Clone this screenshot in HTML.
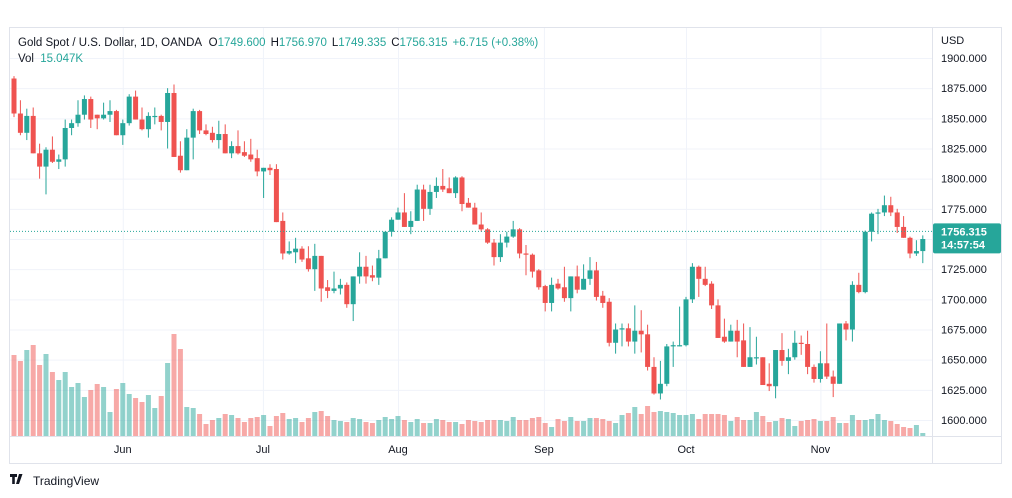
<!DOCTYPE html>
<html><head><meta charset="utf-8">
<style>
body{margin:0;background:#fff;font-family:"Liberation Sans",sans-serif;}
#wrap{position:relative;width:1012px;height:498px;overflow:hidden;}
svg text{font-family:"Liberation Sans",sans-serif;}
</style></head>
<body>
<div id="wrap">
<svg id="chart" width="1012" height="498"></svg>
</div>
<script>
const opens=[1883,1854,1838,1852,1821,1810,1824,1814,1816,1842,1846,1853,1866,1853,1850,1853,1856,1836,1846,1868,1849,1841,1851,1852,1847,1871,1819,1807,1834,1856,1840,1838,1832,1837,1821,1827,1822,1820,1817,1806,1809,1808,1765,1738,1739,1742,1734,1725,1736,1710,1707,1709,1712,1696,1719,1727,1720,1718,1734,1756,1766,1772,1760,1765,1791,1775,1789,1794,1792,1788,1801,1780,1776,1762,1758,1747,1735,1747,1752,1758,1738,1737,1724,1711,1697,1713,1710,1701,1719,1708,1717,1724,1703,1698,1664,1675,1676,1665,1674,1671,1644,1622,1630,1661,1661,1662,1700,1727,1717,1713,1695,1669,1665,1674,1666,1644,1651,1652,1630,1628,1658,1649,1652,1664,1663,1644,1634,1647,1636,1630,1680,1675,1712,1706,1756,1771,1772,1778,1772,1760,1751,1738,1740];
const highs=[1885,1865,1858,1859,1829,1826,1835,1820,1849,1849,1865,1869,1868,1853,1863,1865,1857,1849,1870,1873,1859,1855,1859,1853,1875,1878,1831,1841,1858,1857,1845,1843,1848,1845,1831,1840,1831,1833,1824,1809,1812,1812,1772,1748,1751,1744,1744,1746,1736,1716,1723,1717,1714,1719,1739,1736,1728,1741,1756,1768,1776,1788,1773,1795,1795,1795,1801,1808,1801,1802,1802,1784,1780,1772,1759,1750,1754,1756,1765,1759,1745,1738,1725,1712,1718,1717,1727,1719,1728,1729,1735,1731,1707,1701,1680,1680,1680,1695,1691,1679,1652,1649,1663,1665,1694,1702,1730,1728,1727,1715,1700,1684,1679,1683,1680,1677,1669,1652,1647,1658,1672,1659,1674,1670,1674,1646,1657,1680,1641,1680,1682,1715,1722,1757,1772,1775,1786,1785,1775,1769,1752,1749,1753];
const lows=[1851,1836,1832,1821,1800,1787,1813,1808,1810,1836,1843,1849,1842,1841,1849,1847,1836,1828,1844,1849,1840,1834,1845,1840,1825,1818,1805,1807,1816,1837,1836,1830,1825,1821,1817,1820,1818,1814,1802,1784,1803,1764,1733,1737,1730,1731,1723,1707,1698,1701,1705,1704,1693,1682,1713,1713,1715,1712,1734,1752,1766,1760,1754,1765,1765,1770,1784,1789,1788,1784,1773,1776,1762,1756,1746,1728,1731,1743,1751,1734,1720,1718,1708,1690,1690,1708,1698,1690,1705,1708,1712,1699,1693,1661,1655,1661,1661,1655,1656,1641,1621,1617,1628,1644,1661,1661,1697,1702,1711,1692,1668,1664,1665,1652,1644,1644,1646,1629,1624,1618,1645,1638,1650,1654,1638,1631,1631,1634,1619,1630,1666,1665,1705,1705,1748,1754,1769,1769,1755,1751,1734,1736,1730];
const closes=[1854,1838,1852,1821,1810,1824,1814,1816,1842,1846,1853,1866,1849,1850,1853,1856,1836,1846,1868,1849,1841,1852,1852,1847,1871,1818,1807,1834,1856,1840,1837,1832,1837,1821,1827,1821,1819,1816,1806,1809,1807,1764,1738,1740,1742,1733,1725,1736,1709,1707,1709,1712,1696,1719,1727,1719,1718,1734,1756,1766,1772,1760,1765,1791,1775,1789,1794,1791,1788,1801,1779,1776,1762,1758,1747,1735,1747,1752,1758,1738,1737,1723,1710,1697,1712,1709,1701,1719,1708,1717,1724,1702,1697,1664,1675,1676,1665,1674,1671,1644,1622,1630,1661,1662,1662,1700,1727,1717,1712,1695,1668,1665,1674,1665,1644,1652,1652,1629,1628,1658,1649,1652,1664,1663,1644,1634,1647,1636,1630,1680,1675,1712,1706,1756,1771,1772,1778,1772,1760,1751,1738,1740,1750];
const volumes=[81,75,86,91,71,82,64,56,64,49,53,39,46,52,49,24,47,53,42,38,34,41,28,40,73,102,87,29,28,22,12,16,18,22,21,18,14,18,19,21,10,20,23,17,18,14,18,24,25,
20,16,15,14,18,17,14,13,16,19,17,20,16,14,17,13,13,17,16,14,14,12,16,15,14,16,16,16,15,19,16,16,18,19,13,9,17,15,19,15,15,18,18,17,15,13,21,
23,29,22,30,24,25,24,23,21,21,22,17,22,22,22,21,15,19,16,16,24,20,14,15,18,17,10,15,16,17,15,15,19,13,13,21,16,16,17,22,16,15,12,9,8,11,3];
const monthLabels=["Jun","Jul","Aug","Sep","Oct","Nov"];
const monthTickIdx=[17,38.9,60,82.8,105,126];
const priceTicks=[1600,1625,1650,1675,1700,1725,1750,1775,1800,1825,1850,1875,1900];
const lastPrice=1756.315;

const NS="http://www.w3.org/2000/svg";
const svg=document.getElementById("chart");
function el(tag,attrs,parent){const e=document.createElementNS(NS,tag);for(const k in attrs)e.setAttribute(k,attrs[k]);(parent||svg).appendChild(e);return e;}
const plotL=10,plotR=932,plotT=28,plotB=436;
function yPrice(p){return 58+(1900-p)*1.2067;}
function xIdx(i){return 14+i*6.4;}
function yVol(v){return plotB-v*1.0;}
const UP="#26a69a",DN="#ef5350";

// frame
const frame=el("rect",{x:9.5,y:27.5,width:992,height:436,fill:"none",stroke:"#e0e3eb"});


// grid
const grid=el("g",{});


priceTicks.forEach(p=>{el("line",{x1:plotL,x2:plotR,y1:yPrice(p)+0.5,y2:yPrice(p)+0.5,stroke:"#f0f3fa"},grid);});
monthTickIdx.forEach(i=>{el("line",{x1:xIdx(i)+0.5,x2:xIdx(i)+0.5,y1:plotT,y2:plotB,stroke:"#f0f3fa"},grid);});
// axes separators
el("line",{x1:932.5,x2:932.5,y1:28,y2:463,stroke:"#e0e3eb"});
el("line",{x1:10,x2:1001,y1:436.5,y2:436.5,stroke:"#e0e3eb"});

// volume
const vg=el("g",{});


volumes.forEach((v,i)=>{
  const up=closes[i]>=opens[i];
  const r=el("rect",{x:xIdx(i)-2.5,y:yVol(v),width:5,height:plotB-yVol(v),fill:up?"rgba(38,166,154,0.5)":"rgba(239,83,80,0.5)"},vg);
  
  
});
// candles
const cg=el("g",{});


opens.forEach((o,i)=>{
  const c=closes[i],up=c>=o,col=up?UP:DN,x=xIdx(i);
  const g=el("g",{},cg);
  
  
  el("line",{x1:x,x2:x,y1:yPrice(highs[i]),y2:yPrice(lows[i]),stroke:col,"stroke-width":1},g);
  const t=yPrice(Math.max(o,c)),b=yPrice(Math.min(o,c));
  el("rect",{x:x-2.5,y:t,width:5,height:Math.max(1,b-t),fill:col},g);
});
// last price line
const lp=el("line",{x1:plotL,x2:plotR,y1:yPrice(lastPrice),y2:yPrice(lastPrice),stroke:UP,"stroke-dasharray":"1,2"});



// price axis labels
const pa=el("g",{});


priceTicks.forEach(p=>{
  const t=el("text",{x:941,y:yPrice(p)+4,"font-size":11,fill:"#131722"},pa);
  t.textContent=p.toFixed(3);
});
const usd=el("text",{x:941,y:44,"font-size":11,fill:"#131722"});
usd.textContent="USD";


// last price box
const lb=el("g",{});


el("rect",{x:933,y:yPrice(lastPrice)-8,width:68,height:30,fill:UP,rx:2},lb);
const t1=el("text",{x:941,y:yPrice(lastPrice)+4,"font-size":11,fill:"#fff","font-weight":"bold"},lb);t1.textContent="1756.315";
const t2=el("text",{x:941,y:yPrice(lastPrice)+17,"font-size":11,fill:"#fff","font-weight":"bold"},lb);t2.textContent="14:57:54";

// time axis
const ta=el("g",{});


monthLabels.forEach((m,k)=>{
  const t=el("text",{x:xIdx(monthTickIdx[k]),y:453,"font-size":11,fill:"#131722","text-anchor":"middle"},ta);
  t.textContent=m;
});

// header
const hd=el("text",{x:18,y:46,"font-size":11.5,fill:"#131722"});


hd.innerHTML='Gold Spot / U.S. Dollar, 1D, OANDA  <tspan dx="4">O</tspan><tspan fill="#26a69a">1749.600</tspan><tspan dx="5">H</tspan><tspan fill="#26a69a">1756.970</tspan><tspan dx="5">L</tspan><tspan fill="#26a69a">1749.335</tspan><tspan dx="5">C</tspan><tspan fill="#26a69a">1756.315</tspan><tspan dx="5" fill="#26a69a">+6.715 (+0.38%)</tspan>';
const vl=el("text",{x:18,y:62,"font-size":11.5,fill:"#131722"});


vl.innerHTML='Vol <tspan dx="3" fill="#26a69a">15.047K</tspan>';

// footer logo
const lg=el("g",{});


el("path",{d:"M10 474h7v3h-2.2v7h-2.6v-7H10z M19 474h3.5l-3.5 10h-3z",fill:"#131722"},lg);
const tv=el("text",{x:33,y:485,"font-size":12,fill:"#131722"},lg);tv.textContent="TradingView";
</script>
</body></html>
